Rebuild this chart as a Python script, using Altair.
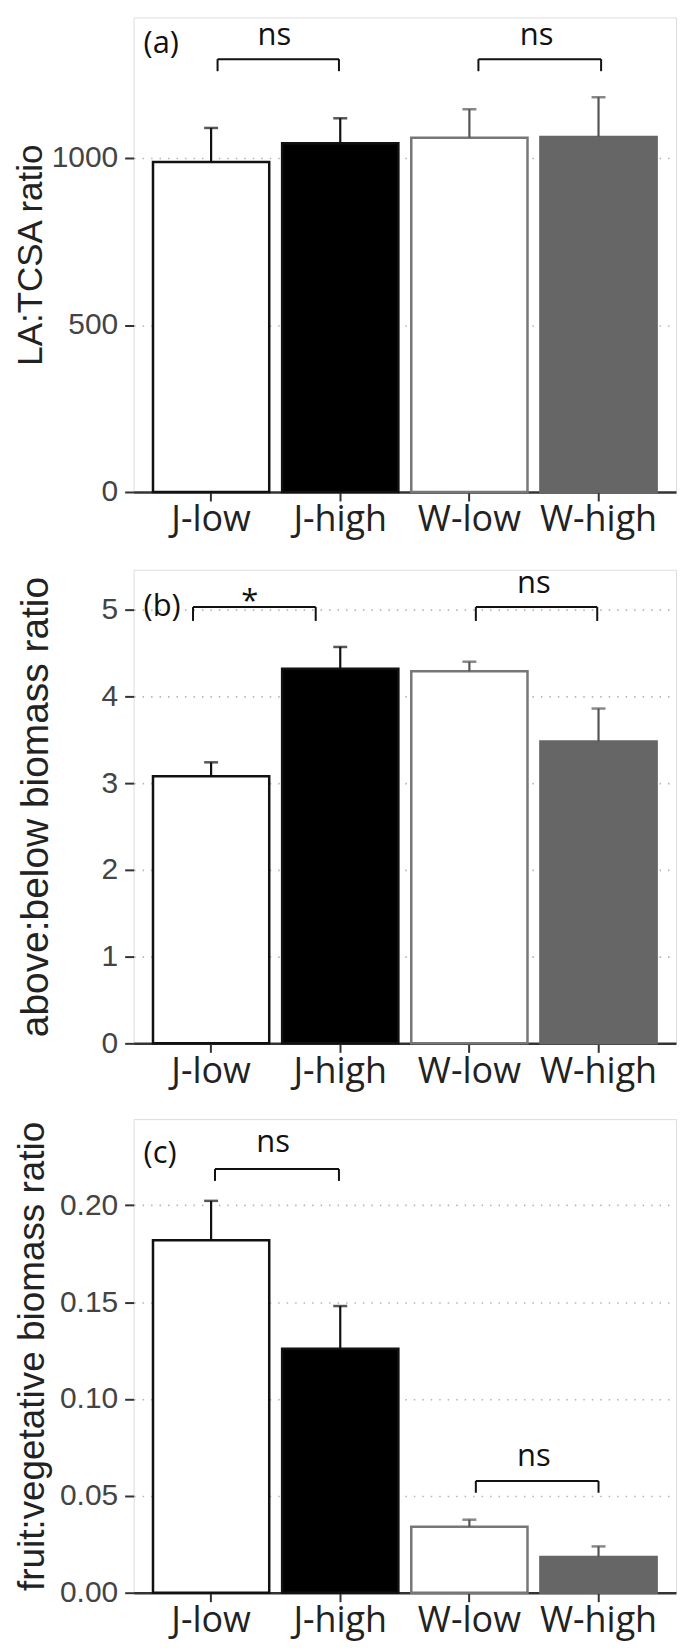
import altair as alt
import pandas as pd

groups = ["J-low", "J-high", "W-low", "W-high"]
fills = ["#ffffff", "#000000", "#ffffff", "#666666"]
strokes = ["#111111", "#111111", "#777777", "#666666"]
err_colors = ["#111111", "#111111", "#555555", "#555555"]

# panel (a) LA:TCSA ratio
a_mean = [988, 1044, 1061, 1063]
a_se = [102, 75, 85, 119]
# panel (b) above:below biomass ratio
b_mean = [3.08, 4.32, 4.29, 3.48]
b_se = [0.16, 0.25, 0.11, 0.38]
# panel (c) fruit:vegetative biomass ratio
c_mean = [0.182, 0.126, 0.034, 0.0185]
c_se = [0.0203, 0.022, 0.0037, 0.0054]

# significance brackets: start, end (category index units), height, leg end
a_br_x1 = [1.05, 3.07]
a_br_x2 = [1.99, 4.02]
a_br_y = [1296, 1296]
a_br_leg = [1260, 1260]
a_lab = ["ns", "ns"]
a_lab_x = [1.49, 3.52]
a_lab_y = [1337, 1337]

b_br_x1 = [0.86, 3.05]
b_br_x2 = [1.81, 3.99]
b_br_y = [5.03, 5.03]
b_br_leg = [4.87, 4.87]
b_lab = ["*", "ns"]
b_lab_x = [1.30, 3.50]
b_lab_y = [4.98, 5.19]

c_br_x1 = [1.03, 3.05]
c_br_x2 = [1.99, 4.00]
c_br_y = [0.2187, 0.0577]
c_br_leg = [0.2126, 0.0516]
c_lab = ["ns", "ns"]
c_lab_x = [1.48, 3.50]
c_lab_y = [0.2273, 0.0653]

W = 544


def panel(tag, tag_y, mean, se, ymax, ticks, fmt, title, tsize, tx, h,
          bx1, bx2, by, bleg, lab, lab_x, lab_y):
    df = pd.DataFrame({"group": groups, "mean": mean,
                       "top": [m + s for m, s in zip(mean, se)]})
    yscale = alt.Scale(domain=[0, ymax], nice=False, zero=True)
    xband = alt.X("group:N", sort=groups,
                  scale=alt.Scale(paddingInner=0.1, paddingOuter=0.15),
                  axis=alt.Axis(title=None, labelAngle=0, labelFont="Open Sans",
                                labelFontSize=36, labelColor="#222222",
                                labelPadding=2, tickSize=9, tickWidth=2,
                                tickColor="#333333", domainColor="#333333",
                                domainWidth=2.5, grid=False))
    yaxis = alt.Axis(title=title, values=ticks, format=fmt,
                     labelFont="Liberation Sans", labelFontSize=30,
                     labelColor="#444444", labelPadding=7, tickSize=9,
                     tickWidth=2, tickColor="#333333", domain=False,
                     grid=True, gridDash=[1.5, 7], gridColor="#b5b5b5",
                     gridWidth=1.6, titleFont="Liberation Sans",
                     titleFontSize=tsize, titleFontWeight="normal",
                     titleColor="#222222", titleX=tx, titleBaseline="alphabetic")
    fill = alt.Fill("group:N", scale=alt.Scale(domain=groups, range=fills), legend=None)
    stroke = alt.Stroke("group:N", scale=alt.Scale(domain=groups, range=strokes), legend=None)
    ecol = alt.Color("group:N", scale=alt.Scale(domain=groups, range=err_colors), legend=None)

    base = alt.Chart(df)
    bars = base.mark_bar(strokeWidth=2.5, fillOpacity=1).encode(
        x=xband, y=alt.Y("mean:Q", scale=yscale, axis=yaxis), fill=fill, stroke=stroke)
    err = base.mark_rule(strokeWidth=2.2).encode(
        x=alt.X("group:N", sort=groups), y=alt.Y("mean:Q", scale=yscale), y2="top:Q", color=ecol)
    cap = base.mark_tick(size=14, thickness=2.5).encode(
        x=alt.X("group:N", sort=groups), y=alt.Y("top:Q", scale=yscale), color=ecol)
    main = alt.layer(bars, err, cap)

    qx = alt.Scale(domain=[0.4, 4.6], nice=False, zero=False)
    br = pd.DataFrame({"x1": bx1, "x2": bx2, "y": by, "leg": bleg})
    legs = pd.DataFrame({"x": bx1 + bx2, "y": by + by, "leg": bleg + bleg})
    labs = pd.DataFrame({"x": lab_x, "y": lab_y, "t": lab})
    tagdf = pd.DataFrame({"y": [tag_y], "t": [tag]})

    hline = alt.Chart(br).mark_rule(color="#111111", strokeWidth=2).encode(
        x=alt.X("x1:Q", scale=qx, axis=None), x2="x2:Q",
        y=alt.Y("y:Q", scale=yscale))
    vlegs = alt.Chart(legs).mark_rule(color="#111111", strokeWidth=2).encode(
        x=alt.X("x:Q", scale=qx, axis=None),
        y=alt.Y("y:Q", scale=yscale), y2="leg:Q")
    texts = alt.Chart(labs).mark_text(font="Open Sans", fontSize=31, color="#111111",
                                      baseline="alphabetic", align="center").encode(
        x=alt.X("x:Q", scale=qx, axis=None),
        y=alt.Y("y:Q", scale=yscale), text="t:N")
    tagm = alt.Chart(tagdf).mark_text(font="Open Sans", fontSize=31, color="#111111",
                                      baseline="alphabetic", align="left").encode(
        x=alt.value(10), y=alt.Y("y:Q", scale=yscale), text="t:N")
    annot = alt.layer(hline, vlegs, texts, tagm)

    return alt.layer(main, annot).resolve_scale(x="independent").properties(
        width=W, height=h)


pa = panel("(a)", 1314, a_mean, a_se, 1421, [0, 500, 1000], "d",
           "LA:TCSA ratio", 35, -92, 476,
           a_br_x1, a_br_x2, a_br_y, a_br_leg, a_lab, a_lab_x, a_lab_y)
pb = panel("(b)", 4.93, b_mean, b_se, 5.46, [0, 1, 2, 3, 4, 5], "d",
           "above:below biomass ratio", 39, -86, 475,
           b_br_x1, b_br_x2, b_br_y, b_br_leg, b_lab, b_lab_x, b_lab_y)
pc = panel("(c)", 0.2216, c_mean, c_se, 0.2445, [0, 0.05, 0.10, 0.15, 0.20], ".2f",
           "fruit:vegetative biomass ratio", 37, -90, 475,
           c_br_x1, c_br_x2, c_br_y, c_br_leg, c_lab, c_lab_x, c_lab_y)

chart = alt.vconcat(pa, pb, pc, spacing=28).properties(
    padding={"left": 5, "top": 6, "right": 0, "bottom": 0}
).configure_view(stroke="#7a7a7a", strokeWidth=2).configure(background="white")

chart.save("out.html", embed_options={"renderer": "svg", "actions": False})
